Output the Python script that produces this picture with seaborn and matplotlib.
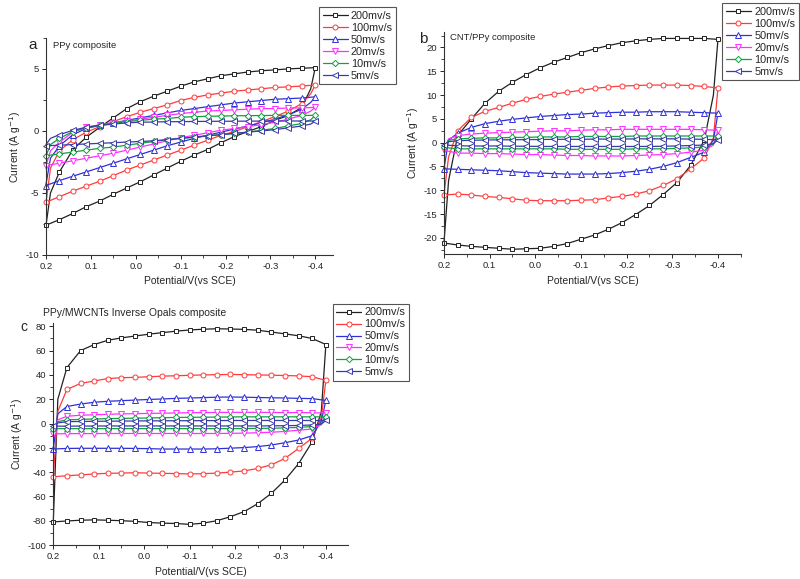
import seaborn as sns
import matplotlib.pyplot as plt
from matplotlib.ticker import MultipleLocator

# potentials: forward sweep 0.2 -> -0.4, reverse sweep -0.4 -> 0.2
E_UP = [0.20, 0.19, 0.17, 0.14, 0.11, 0.08, 0.05, 0.02, -0.01, -0.04, -0.07,
        -0.10, -0.13, -0.16, -0.19, -0.22, -0.25, -0.28, -0.31, -0.34, -0.37, -0.40]
E_DN = [-0.40, -0.39, -0.37, -0.34, -0.31, -0.28, -0.25, -0.22, -0.19, -0.16, -0.13,
        -0.10, -0.07, -0.04, -0.01, 0.02, 0.05, 0.08, 0.11, 0.14, 0.17, 0.20]

RATES = ['200mv/s', '100mv/s', '50mv/s', '20mv/s', '10mv/s', '5mv/s']

# panel a - PPy composite
A_UP_200 = [-7.6, -5.0, -3.3, -1.5, -0.5, 0.3, 1.05, 1.8, 2.35, 2.8, 3.2, 3.6, 3.95, 4.2, 4.45, 4.6, 4.75, 4.85, 4.92, 5.0, 5.05, 5.1]
A_DN_200 = [5.1, 3.4, 1.9, 1.25, 0.85, 0.35, -0.05, -0.45, -0.95, -1.5, -1.95, -2.45, -3.0, -3.55, -4.1, -4.6, -5.1, -5.65, -6.1, -6.65, -7.15, -7.6]
A_UP_100 = [-5.8, -3.0, -1.6, -0.7, -0.1, 0.35, 0.75, 1.15, 1.5, 1.8, 2.1, 2.45, 2.7, 2.9, 3.05, 3.2, 3.3, 3.4, 3.5, 3.55, 3.62, 3.7]
A_DN_100 = [3.7, 3.0, 2.2, 1.6, 1.15, 0.75, 0.35, -0.05, -0.35, -0.75, -1.15, -1.55, -1.95, -2.35, -2.75, -3.15, -3.6, -4.05, -4.45, -4.85, -5.3, -5.75]
A_UP_50 = [-4.3, -2.2, -1.2, -0.3, 0.2, 0.45, 0.65, 0.85, 1.05, 1.25, 1.45, 1.65, 1.8, 1.95, 2.1, 2.25, 2.35, 2.45, 2.55, 2.6, 2.65, 2.75]
A_DN_50 = [2.75, 2.3, 1.75, 1.3, 0.95, 0.65, 0.4, 0.15, -0.1, -0.35, -0.6, -0.9, -1.2, -1.55, -1.9, -2.25, -2.6, -2.95, -3.3, -3.65, -4.0, -4.4]
A_UP_20 = [-2.8, -1.6, -0.9, -0.1, 0.3, 0.5, 0.65, 0.8, 0.95, 1.1, 1.25, 1.4, 1.5, 1.6, 1.65, 1.7, 1.75, 1.8, 1.8, 1.85, 1.85, 1.9]
A_DN_20 = [1.9, 1.6, 1.25, 0.95, 0.7, 0.5, 0.35, 0.2, 0.05, -0.15, -0.35, -0.55, -0.8, -1.05, -1.3, -1.55, -1.8, -2.0, -2.2, -2.4, -2.6, -2.8]
A_UP_10 = [-2.0, -1.1, -0.6, -0.05, 0.25, 0.45, 0.6, 0.75, 0.85, 0.95, 1.0, 1.1, 1.15, 1.18, 1.2, 1.22, 1.23, 1.24, 1.25, 1.25, 1.25, 1.25]
A_DN_10 = [1.25, 0.9, 0.6, 0.4, 0.2, 0.05, -0.1, -0.2, -0.3, -0.4, -0.5, -0.6, -0.7, -0.85, -1.0, -1.15, -1.3, -1.4, -1.55, -1.7, -1.85, -2.0]
A_UP_5 = [-1.1, -0.6, -0.3, 0.05, 0.3, 0.45, 0.55, 0.65, 0.7, 0.72, 0.74, 0.75, 0.76, 0.77, 0.78, 0.78, 0.79, 0.79, 0.8, 0.8, 0.8, 0.8]
A_DN_5 = [0.8, 0.55, 0.4, 0.25, 0.1, 0.0, -0.1, -0.2, -0.3, -0.4, -0.5, -0.6, -0.7, -0.8, -0.85, -0.9, -0.95, -1.0, -1.05, -1.1, -1.15, -1.2]

# panel b - CNT/PPy composite
B_UP_200 = [-21.0, -8.0, 1.5, 5.0, 8.3, 10.8, 12.7, 14.3, 15.7, 16.9, 17.9, 18.9, 19.7, 20.4, 21.0, 21.4, 21.7, 21.9, 21.9, 21.9, 21.9, 21.7]
B_DN_200 = [21.7, 10.0, 0.5, -4.8, -8.4, -10.9, -13.2, -15.1, -16.8, -18.2, -19.4, -20.3, -21.2, -21.8, -22.2, -22.3, -22.4, -22.2, -22.0, -21.8, -21.5, -21.1]
B_UP_100 = [-11.0, -3.0, 2.5, 5.3, 6.6, 7.4, 8.3, 9.1, 9.7, 10.2, 10.6, 11.0, 11.4, 11.7, 11.9, 12.0, 12.1, 12.1, 12.1, 12.0, 11.8, 11.5]
B_DN_100 = [11.5, 1.0, -3.2, -5.5, -7.6, -9.0, -10.1, -10.8, -11.3, -11.6, -12.0, -12.1, -12.2, -12.2, -12.2, -12.1, -11.8, -11.5, -11.3, -11.0, -10.8, -11.0]
B_UP_50 = [-5.5, 0.5, 2.0, 3.2, 4.0, 4.5, 4.9, 5.2, 5.5, 5.7, 5.9, 6.0, 6.2, 6.3, 6.4, 6.4, 6.5, 6.5, 6.5, 6.4, 6.3, 6.2]
B_DN_50 = [6.2, 0.5, -2.0, -3.1, -4.2, -5.0, -5.6, -6.0, -6.3, -6.5, -6.6, -6.6, -6.6, -6.5, -6.4, -6.3, -6.1, -5.9, -5.8, -5.7, -5.6, -5.5]
B_UP_20 = [-1.5, 0.8, 1.5, 1.8, 2.0, 2.1, 2.2, 2.3, 2.4, 2.5, 2.5, 2.6, 2.7, 2.7, 2.8, 2.8, 2.8, 2.8, 2.8, 2.8, 2.7, 2.6]
B_DN_20 = [2.6, -0.5, -1.6, -2.0, -2.3, -2.5, -2.6, -2.7, -2.8, -2.8, -2.8, -2.7, -2.7, -2.6, -2.5, -2.5, -2.4, -2.3, -2.3, -2.2, -2.2, -1.6]
B_UP_10 = [-1.0, 0.5, 0.8, 0.9, 1.0, 1.0, 1.1, 1.1, 1.2, 1.2, 1.2, 1.3, 1.3, 1.3, 1.3, 1.4, 1.4, 1.4, 1.4, 1.4, 1.4, 1.4]
B_DN_10 = [1.4, -0.3, -0.9, -1.1, -1.2, -1.3, -1.3, -1.3, -1.4, -1.4, -1.4, -1.4, -1.4, -1.3, -1.3, -1.3, -1.3, -1.3, -1.3, -1.3, -1.3, -1.0]
B_UP_5 = [-0.5, 0.2, 0.4, 0.5, 0.55, 0.6, 0.6, 0.65, 0.65, 0.7, 0.7, 0.7, 0.75, 0.75, 0.75, 0.8, 0.8, 0.8, 0.8, 0.75, 0.7, 0.6]
B_DN_5 = [0.6, -0.2, -0.5, -0.6, -0.7, -0.75, -0.8, -0.8, -0.8, -0.8, -0.8, -0.8, -0.8, -0.8, -0.8, -0.75, -0.75, -0.7, -0.7, -0.7, -0.65, -0.5]

# panel c - PPy/MWCNTs inverse opals
C_UP_200 = [-81, 20, 46, 60, 65, 68.5, 70.5, 72, 73.5, 74.8, 76, 77, 77.6, 78, 77.8, 77.5, 76.8, 75.3, 73.8, 72.2, 70, 65]
C_DN_200 = [65, 10, -15, -33, -46.5, -57.5, -66, -72.5, -76.7, -80, -82, -83, -82.3, -82, -81.5, -80.5, -80, -79.6, -79.3, -79.6, -80.2, -81]
C_UP_100 = [-43.8, 10, 28, 33, 35, 37, 37.7, 38, 38.5, 39, 39.3, 39.7, 40, 40.2, 40.4, 40.2, 40, 39.8, 39.5, 39.2, 38.5, 35.5]
C_DN_100 = [35.5, 5, -12, -20.5, -28.7, -34, -37, -39, -40, -40.8, -41.3, -41.5, -41.2, -41, -40.8, -40.5, -40.8, -41, -41.5, -42.3, -43, -43.8]
C_UP_50 = [-21, 8, 14, 16, 17.5, 18.3, 18.8, 19.3, 19.8, 20.2, 20.7, 21, 21.3, 21.7, 21.8, 21.7, 21.4, 21.2, 21, 20.7, 20.5, 19]
C_DN_50 = [19, 2, -10, -13.6, -15.8, -17.7, -19, -19.8, -20.3, -20.8, -21, -21, -21, -21, -20.7, -20.5, -20.4, -20.4, -20.4, -20.4, -20.5, -21]
C_UP_20 = [-8.5, 3, 6, 6.8, 7.2, 7.6, 7.9, 8.1, 8.3, 8.5, 8.7, 8.9, 9.0, 9.1, 9.2, 9.2, 9.2, 9.1, 9.0, 9.0, 8.9, 8.5]
C_DN_20 = [8.5, -1, -4.5, -5.5, -6.5, -7.2, -7.6, -7.9, -8.1, -8.2, -8.2, -8.2, -8.2, -8.2, -8.2, -8.2, -8.2, -8.2, -8.3, -8.3, -8.4, -8.5]
C_UP_10 = [-4.2, 1.5, 3.0, 3.4, 3.7, 4.0, 4.2, 4.4, 4.6, 4.8, 5.0, 5.1, 5.2, 5.3, 5.4, 5.5, 5.5, 5.5, 5.5, 5.5, 5.5, 5.5]
C_DN_10 = [5.5, 0, -2.5, -3.2, -3.6, -3.9, -4.0, -4.1, -4.2, -4.2, -4.2, -4.2, -4.2, -4.2, -4.2, -4.2, -4.2, -4.2, -4.2, -4.2, -4.2, -4.2]
C_UP_5 = [-2.2, 0.5, 1.5, 1.7, 1.8, 1.9, 2.0, 2.1, 2.2, 2.2, 2.3, 2.3, 2.4, 2.4, 2.5, 2.5, 2.5, 2.5, 2.5, 2.5, 2.5, 2.5]
C_DN_5 = [2.5, -0.5, -1.2, -1.6, -1.8, -1.9, -2.0, -2.0, -2.0, -2.0, -2.0, -2.0, -2.0, -2.0, -2.0, -2.0, -2.0, -2.0, -2.1, -2.1, -2.2, -2.2]

COLORS = ['#222222', '#ff3b3b', '#3030d8', '#ff30ff', '#12a040', '#3a3aa8']
MARKERS = ['s', 'o', '^', 'v', 'D', '<']
MSIZES = [3.4, 3.6, 3.8, 3.8, 3.2, 3.8]

sns.set_style('ticks')
plt.rcParams['font.family'] = ['Liberation Sans', 'DejaVu Sans']
plt.rcParams['axes.unicode_minus'] = False

fig = plt.figure(figsize=(8, 5.79), dpi=100)
ax_a = fig.add_axes([0.0575, 0.5596, 0.359, 0.375])
ax_b = fig.add_axes([0.555, 0.5613, 0.371, 0.383])
ax_c = fig.add_axes([0.0666, 0.0587, 0.368, 0.384])

x_cycle = E_UP + E_DN
keep = [i for i in range(len(x_cycle)) if i not in (0, 1, 22, 23)]


def draw(ax, ups, dns):
    for lab, up, dn, c, m, s in zip(RATES, ups, dns, COLORS, MARKERS, MSIZES):
        sns.lineplot(x=x_cycle, y=up + dn, ax=ax, sort=False, estimator=None,
                     color=c, lw=0.9, marker=m, ms=s, mfc='white', mec=c,
                     mew=0.7, markevery=keep, label=lab, clip_on=False)


draw(ax_a, [A_UP_200, A_UP_100, A_UP_50, A_UP_20, A_UP_10, A_UP_5],
     [A_DN_200, A_DN_100, A_DN_50, A_DN_20, A_DN_10, A_DN_5])
draw(ax_b, [B_UP_200, B_UP_100, B_UP_50, B_UP_20, B_UP_10, B_UP_5],
     [B_DN_200, B_DN_100, B_DN_50, B_DN_20, B_DN_10, B_DN_5])
draw(ax_c, [C_UP_200, C_UP_100, C_UP_50, C_UP_20, C_UP_10, C_UP_5],
     [C_DN_200, C_DN_100, C_DN_50, C_DN_20, C_DN_10, C_DN_5])

setup = [
    (ax_a, (0.2, -0.44), (-10, 7.5), 5, 2.5, (0.392, 0.997)),
    (ax_b, (0.2, -0.45), (-23.4, 23.2), 5, 2.5, (0.896, 1.004)),
    (ax_c, (0.2, -0.448), (-100, 83), 20, 10, (0.409, 0.485)),
]
for ax, xl, yl, ymaj, ymin, leg_pos in setup:
    ax.set_xlim(*xl)
    ax.set_ylim(*yl)
    ax.xaxis.set_major_locator(MultipleLocator(0.1))
    ax.xaxis.set_minor_locator(MultipleLocator(0.05))
    ax.yaxis.set_major_locator(MultipleLocator(ymaj))
    ax.yaxis.set_minor_locator(MultipleLocator(ymin))
    ax.xaxis.set_major_formatter(plt.FuncFormatter(lambda v, p: f'{v:.1f}'))
    ax.tick_params(which='major', labelsize=6.8, length=3, width=0.7, pad=2)
    ax.tick_params(which='minor', length=2, width=0.6)
    for sp in ('left', 'bottom'):
        ax.spines[sp].set_linewidth(0.8)
        ax.spines[sp].set_color('#333333')
    sns.despine(ax=ax)
    ax.set_xlabel('Potential/V(vs SCE)', fontsize=7.5, labelpad=4)
    ax.set_ylabel('Current (A g$^{-1}$)', fontsize=7.5, labelpad=2)
    leg = ax.legend(loc='upper left', bbox_to_anchor=leg_pos, bbox_transform=fig.transFigure,
                    fontsize=7.8, fancybox=False, framealpha=1, edgecolor='#555555',
                    handlelength=2.3, handletextpad=0.3, labelspacing=0.18, borderpad=0.35)
    leg.get_frame().set_linewidth(0.8)

ax_a.text(0.025, 0.985, 'PPy composite', transform=ax_a.transAxes, fontsize=6.8, va='top')
ax_a.text(-0.045, 0.965, 'a', transform=ax_a.transAxes, fontsize=11, ha='center', va='center')
ax_b.text(0.02, 0.995, 'CNT/PPy composite', transform=ax_b.transAxes, fontsize=6.8, va='top')
ax_b.text(-0.07, 0.97, 'b', transform=ax_b.transAxes, fontsize=11, ha='center', va='center')
ax_c.text(-0.035, 1.045, 'PPy/MWCNTs Inverse Opals composite', transform=ax_c.transAxes,
          fontsize=7.5, va='center')
ax_c.text(-0.1, 0.98, 'c', transform=ax_c.transAxes, fontsize=10, ha='center', va='center')

fig.savefig('out.png', dpi=100)
